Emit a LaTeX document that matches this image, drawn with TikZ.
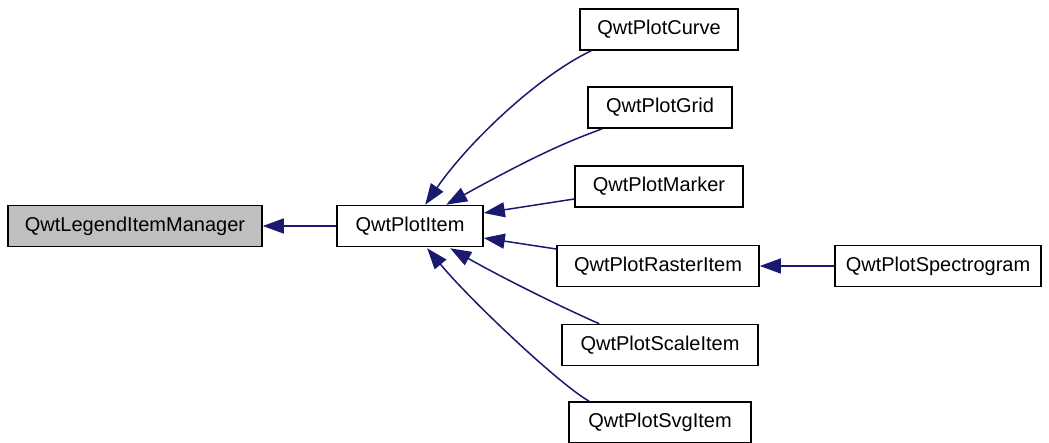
\documentclass[tikz,border=0pt]{standalone}
\usepackage{fontspec}
\setmainfont{Liberation Sans}
\usetikzlibrary{arrows.meta,calc}
\definecolor{edgeblue}{HTML}{191970}
\definecolor{basegray}{HTML}{BFBFBF}
\tikzset{
  cls/.style={draw=black, line width=1.6pt, fill=white, minimum height=41pt,
    inner sep=0pt, font=\fontsize{20}{24}\selectfont},
  inherit/.style={draw=edgeblue, line width=1.5pt,
    -{Triangle[length=21pt,width=15pt]}},
}
\begin{document}
\begin{tikzpicture}[x=1pt,y=-1pt]
\useasboundingbox (0,0) rectangle (1049,443);
% class boxes
\node[cls, fill=basegray, minimum width=254pt] (lim) at (135,226) {QwtLegendItemManager};
\node[cls, minimum width=146pt] (item) at (410,226) {QwtPlotItem};
\node[cls, minimum width=158pt] (curve) at (659,29.5) {QwtPlotCurve};
\node[cls, minimum width=144pt] (grid) at (660,107.5) {QwtPlotGrid};
\node[cls, minimum width=168pt] (marker) at (659,186.5) {QwtPlotMarker};
\node[cls, minimum width=202pt] (raster) at (658,266) {QwtPlotRasterItem};
\node[cls, minimum width=206pt] (spectro) at (938,266) {QwtPlotSpectrogram};
\node[cls, minimum width=196pt] (scale) at (660,345) {QwtPlotScaleItem};
\node[cls, minimum width=182pt] (svg) at (660,422.5) {QwtPlotSvgItem};
% inheritance edges
\draw[inherit] (item.west) -- (lim.east);
\draw[inherit] (spectro.west) -- (raster.east);
\draw[inherit] ($(curve.south west)+(12,0)$) .. controls (540,75) and (470,140) .. ($(item.north west)+(89,0)$);
\draw[inherit] ($(grid.south west)+(15,0)$) .. controls (575,139) and (545,150) .. ($(item.north west)+(110,0)$);
\draw[inherit] ($(marker.west)+(0,12.5)$) -- ($(item.east)+(0,-13)$);
\draw[inherit] ($(raster.west)+(0,-17)$) -- ($(item.east)+(0,12)$);
\draw[inherit] ($(scale.north west)+(38,0)$) .. controls (570,311) and (510,282) .. ($(item.south west)+(114,1)$);
\draw[inherit] ($(svg.north west)+(21,0)$) .. controls (560,385) and (470,300) .. ($(item.south west)+(91,1)$);
\end{tikzpicture}
\end{document}
